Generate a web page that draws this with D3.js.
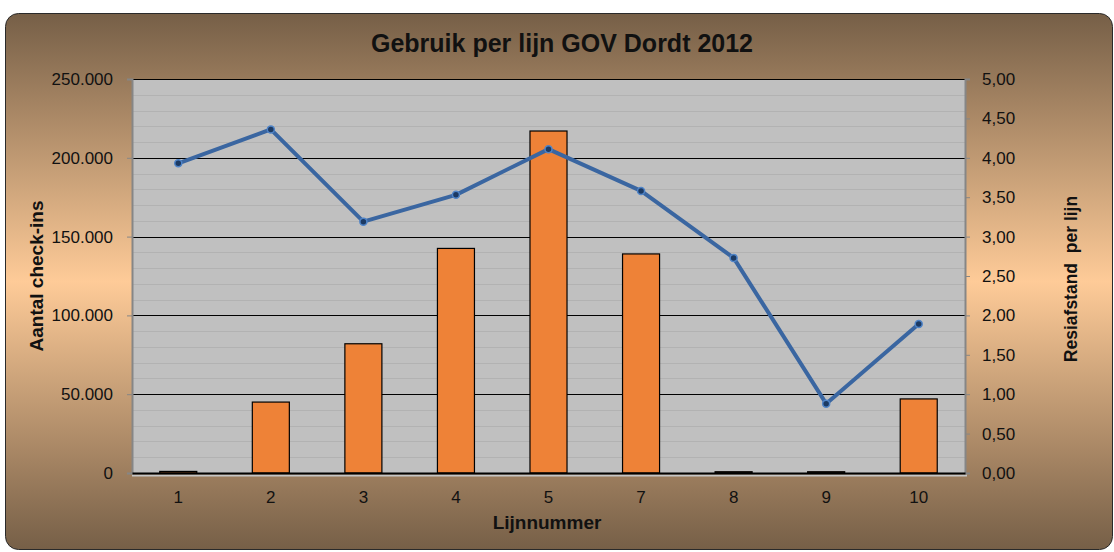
<!DOCTYPE html>
<meta charset="utf-8">
<style>
  body { margin: 0; background: #fff; }
  text { font-family: "Liberation Sans", Arial, sans-serif; fill: #111; }
</style>
<body>
<script src="https://cdn.jsdelivr.net/npm/d3@7"></script>
<script>

    var lijnen     = ["1", "2", "3", "4", "5", "7", "8", "9", "10"];
    var checkIns   = [1000, 45000, 82000, 142500, 217000, 139000, 800, 800, 47000];
    var reisafstand = [3.93, 4.36, 3.19, 3.53, 4.11, 3.58, 2.73, 0.88, 1.89];
    var leftTicks  = [0, 50000, 100000, 150000, 200000, 250000];
    var rightTicks = [0, 0.5, 1, 1.5, 2, 2.5, 3, 3.5, 4, 4.5, 5];

    var width = 1114, height = 552;
    var plot = { left: 132, right: 965, top: 79, bottom: 473 };

    var nl = d3.formatLocale({ decimal: ",", thousands: ".", grouping: [3], currency: ["€", ""] });
    var fmtLeft = nl.format(",.0f"),
        fmtRight = nl.format(".2f");

    var svg = d3.select("body").append("svg")
        .attr("width", width)
        .attr("height", height);

    // achtergrond
    var grad = svg.append("defs").append("linearGradient")
        .attr("id", "bg")
        .attr("x1", 0).attr("y1", 0).attr("x2", 0).attr("y2", 1);
    grad.append("stop").attr("offset", "0%").attr("stop-color", "#765f47");
    grad.append("stop").attr("offset", "50%").attr("stop-color", "#fecb98");
    grad.append("stop").attr("offset", "100%").attr("stop-color", "#765f47");

    svg.append("rect")
        .attr("x", 5.5).attr("y", 13.5)
        .attr("width", 1107).attr("height", 536)
        .attr("rx", 13).attr("ry", 13)
        .attr("fill", "url(#bg)")
        .attr("stroke", "#2a2a2a")
        .attr("stroke-width", 1);

    var x = d3.scaleBand()
        .domain(lijnen)
        .range([plot.left, plot.right])
        .paddingInner(0.6)
        .paddingOuter(0.3);

    var yLeft = d3.scaleLinear()
        .domain([0, 250000])
        .range([plot.bottom, plot.top]);

    var yRight = d3.scaleLinear()
        .domain([0, 5])
        .range([plot.bottom, plot.top]);

    // plotgebied
    svg.append("rect")
        .attr("x", plot.left).attr("y", plot.top)
        .attr("width", plot.right - plot.left)
        .attr("height", plot.bottom - plot.top)
        .attr("fill", "#c0c0c0");

    svg.append("line")
        .attr("x1", plot.left).attr("x2", plot.right + 2)
        .attr("y1", plot.bottom + 2.5).attr("y2", plot.bottom + 2.5)
        .attr("stroke", "#c6c6c6").attr("stroke-width", 2);

    // hulplijnen
    var minor = d3.range(0, 250001, 10000).filter(function (d) { return d % 50000 !== 0; });
    svg.append("g").selectAll("line")
        .data(minor)
        .enter().append("line")
        .attr("x1", plot.left).attr("x2", plot.right)
        .attr("y1", function (d) { return Math.round(yLeft(d)) + 0.5; })
        .attr("y2", function (d) { return Math.round(yLeft(d)) + 0.5; })
        .attr("stroke", "#b2b2b2");

    svg.append("g").selectAll("line")
        .data(leftTicks.slice(1))
        .enter().append("line")
        .attr("x1", plot.left).attr("x2", plot.right)
        .attr("y1", function (d) { return Math.round(yLeft(d)) + 0.5; })
        .attr("y2", function (d) { return Math.round(yLeft(d)) + 0.5; })
        .attr("stroke", "#000");

    // staven
    svg.append("g").selectAll("rect")
        .data(checkIns)
        .enter().append("rect")
        .attr("x", function (d, i) { return x(lijnen[i]); })
        .attr("y", function (d) { return yLeft(d); })
        .attr("width", x.bandwidth())
        .attr("height", function (d) { return yLeft(0) - yLeft(d); })
        .attr("fill", "#ee8237")
        .attr("stroke", "#000")
        .attr("stroke-width", 1.2);

    // assen
    var axL = svg.append("g")
        .attr("transform", "translate(" + plot.left + ",0)")
        .call(d3.axisLeft(yLeft).tickValues(leftTicks).tickFormat(fmtLeft).tickSize(5).tickPadding(14));

    var axR = svg.append("g")
        .attr("transform", "translate(" + plot.right + ",0)")
        .call(d3.axisRight(yRight).tickValues(rightTicks).tickFormat(fmtRight).tickSize(5).tickPadding(12));

    [axL, axR].forEach(function (ax) {
        ax.select(".domain").attr("stroke", "#868686").attr("stroke-width", 2);
        ax.selectAll(".tick line").attr("stroke", "#868686");
        ax.selectAll("text")
            .attr("font-size", 17)
            .attr("font-family", "Liberation Sans, Arial, sans-serif")
            .attr("fill", "#111");
    });

    var axB = svg.append("g")
        .attr("transform", "translate(0," + plot.bottom + ")")
        .call(d3.axisBottom(x).tickSize(0).tickPadding(18));
    axB.select(".domain").attr("stroke", "#000").attr("stroke-width", 2);
    axB.selectAll("text")
        .attr("font-size", 17)
        .attr("font-family", "Liberation Sans, Arial, sans-serif")
        .attr("fill", "#111");

    // lijn
    var line = d3.line()
        .x(function (d, i) { return x(lijnen[i]) + x.bandwidth() / 2; })
        .y(function (d) { return yRight(d); });

    svg.append("path")
        .datum(reisafstand)
        .attr("d", line)
        .attr("fill", "none")
        .attr("stroke", "#3a66a1")
        .attr("stroke-width", 4)
        .attr("stroke-linejoin", "round");

    svg.append("g").selectAll("circle")
        .data(reisafstand)
        .enter().append("circle")
        .attr("cx", function (d, i) { return x(lijnen[i]) + x.bandwidth() / 2; })
        .attr("cy", function (d) { return yRight(d); })
        .attr("r", 3.5)
        .attr("fill", "#1c3a63")
        .attr("stroke", "#4f84c8")
        .attr("stroke-width", 1.5);

    // titels
    svg.append("text")
        .attr("x", 562).attr("y", 52)
        .attr("text-anchor", "middle")
        .attr("font-size", 25)
        .attr("font-weight", "bold")
        .text("Gebruik per lijn  GOV Dordt 2012");

    svg.append("text")
        .attr("x", 547).attr("y", 529)
        .attr("text-anchor", "middle")
        .attr("font-size", 19)
        .attr("font-weight", "bold")
        .text("Lijnnummer");

    svg.append("text")
        .attr("transform", "translate(43,276) rotate(-90)")
        .attr("text-anchor", "middle")
        .attr("font-size", 19)
        .attr("font-weight", "bold")
        .text("Aantal check-ins");

    svg.append("text")
        .attr("transform", "translate(1077,279) rotate(-90)")
        .attr("text-anchor", "middle")
        .attr("font-size", 17.5)
        .attr("font-weight", "bold")
        .style("white-space", "pre")
        .text("Resiafstand  per lijn");

</script>
</body>
